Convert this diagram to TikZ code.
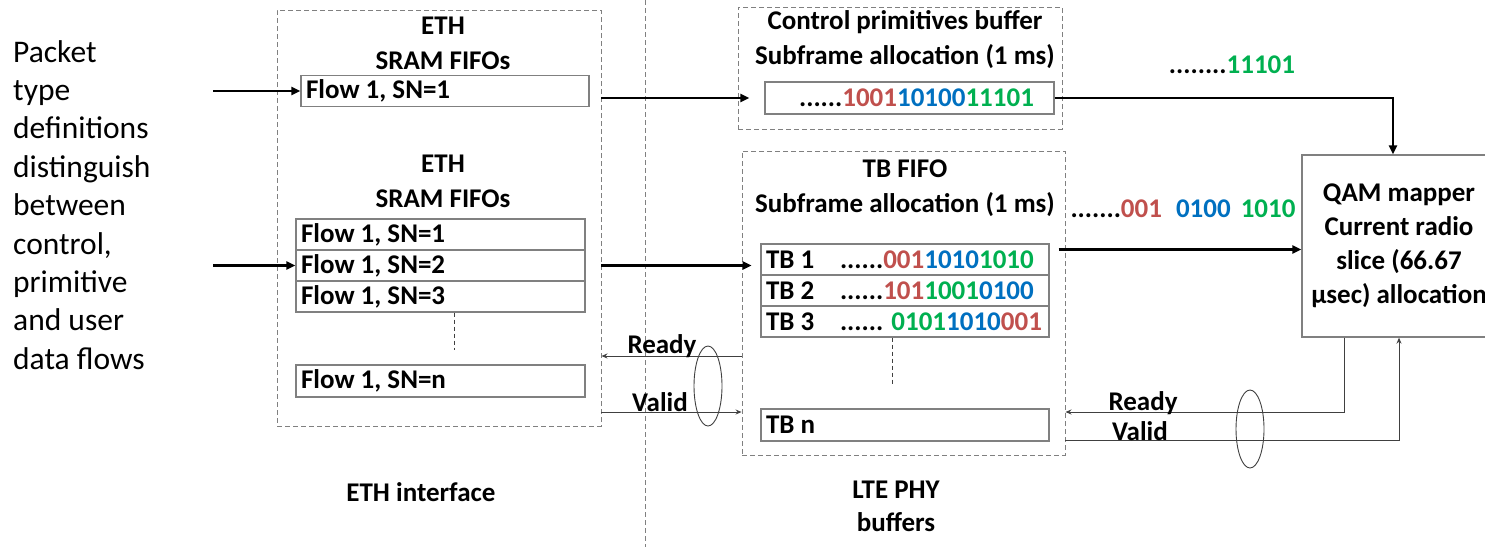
\documentclass[tikz,border=0pt]{standalone}
\usepackage{fontspec}
\setmainfont{Carlito}
\usetikzlibrary{arrows.meta,shapes.geometric,calc}

\definecolor{bitred}{HTML}{C0504D}
\definecolor{bitblue}{HTML}{0070C0}
\definecolor{bitgreen}{HTML}{00B050}
\definecolor{boxgray}{HTML}{808080}
\definecolor{sigline}{HTML}{404040}

\newcommand\bfs{\fontsize{27}{35}\selectfont\bfseries}
\newcommand\bred[1]{\textcolor{bitred}{#1}}
\newcommand\bblue[1]{\textcolor{bitblue}{#1}}
\newcommand\bgreen[1]{\textcolor{bitgreen}{#1}}

\begin{document}
\begin{tikzpicture}[x=1pt,y=-1pt,
  grp/.style={rectangle, draw=boxgray, dash pattern=on 5pt off 3pt, line width=0.9pt, inner sep=0},
  cell/.style={rectangle, draw=boxgray, line width=1.3pt, inner sep=0, inner xsep=5pt, minimum height=31pt, font=\bfs},
  ttl/.style={font=\bfs, align=center, inner sep=0},
  lbl/.style={font=\bfs, inner sep=0},
  introtext/.style={font=\fontsize{31.5}{38.4}\selectfont, align=left, inner sep=0},
  flow/.style={line width=2.2pt, -{Triangle[length=9pt,width=8pt]}},
  sig/.style={draw=sigline, line width=1pt, -{Stealth[length=6pt,width=5pt]}},
  hs/.style={ellipse, draw=sigline, line width=0.9pt, inner sep=0},
  divider/.style={draw=boxgray, dash pattern=on 5pt off 3pt, line width=0.9pt},
  tick/.style={draw=sigline, dash pattern=on 4pt off 3pt, line width=0.8pt}]
\useasboundingbox (0,0) rectangle (1485,547);
\clip (0,0) rectangle (1485,547);

% left description
\node[introtext, anchor=north west] (intro) at (13,40)
  {Packet\\type\\definitions\\distinguish\\between\\control,\\primitive\\and user\\data flows};

% ETH interface side
\node[grp, minimum width=324pt, minimum height=416pt] (ethbox) at (439,218) {};
\node[ttl] (ethtitleA) at (443,43) {ETH\\SRAM FIFOs};
\node[cell, minimum width=288pt] (c1) at (445,91) {\makebox[278pt][l]{Flow 1, SN=1}};
\node[ttl] (ethtitleB) at (443,181) {ETH\\SRAM FIFOs};
\node[cell, minimum width=289pt] (s1) at (440.5,234.5) {\makebox[279pt][l]{Flow 1, SN=1}};
\node[cell, minimum width=289pt] (s2) at (440.5,265.5) {\makebox[279pt][l]{Flow 1, SN=2}};
\node[cell, minimum width=289pt] (s3) at (440.5,296.5) {\makebox[279pt][l]{Flow 1, SN=3}};
\node[cell, minimum width=289pt, minimum height=32pt] (sn) at (440.5,381) {\makebox[279pt][l]{Flow 1, SN=n}};
\draw[tick] ($(s3.south)+(13.5,0)$) -- ++(0,37);

\coordinate (srcA) at (213,0);
\draw[flow] (srcA |- c1.west) -- (c1.west);
\draw[flow] (srcA |- s2.west) -- (s2.west);

% divider between the two domains
\coordinate (divtop) at (645,0);
\coordinate (divbot) at (645,547);
\draw[divider] (divtop) -- (divbot);

% control primitives buffer
\node[grp, minimum width=324pt, minimum height=122pt] (ctrlbox) at (900,68) {};
\node[ttl] (ctrltitle) at (905,40) {Control primitives buffer\\Subframe allocation (1 ms)};
\node[cell, minimum width=289pt, minimum height=32pt] (cbits) at (909.5,98)
  {\hspace*{14pt}......\bred{1001}\bblue{10100}\bgreen{11101}};
\draw[flow] (ethbox.east |- cbits.west) -- ($(cbits.west)+(-15,0)$);

% transport block FIFO
\node[grp, minimum width=323pt, minimum height=304pt] (tbbox) at (903.5,303) {};
\node[ttl] (tbtitle) at (905,188) {TB FIFO\\Subframe allocation (1 ms)};
\node[cell, minimum width=288pt] (tb1) at (905,259.5)
  {\makebox[278pt][l]{\makebox[74pt][l]{TB 1}......\bred{001}\bblue{1010}\bgreen{1010}}};
\node[cell, minimum width=288pt] (tb2) at (905,290.5)
  {\makebox[278pt][l]{\makebox[74pt][l]{TB 2}......\bred{101}\bgreen{1001}\bblue{0100}}};
\node[cell, minimum width=288pt] (tb3) at (905,321.5)
  {\makebox[278pt][l]{\makebox[74pt][l]{TB 3}...... \bgreen{0101}\bblue{1010}\bred{001}}};
\node[cell, minimum width=288pt, minimum height=32pt] (tbn) at (905,425)
  {\makebox[278pt][l]{TB n}};
\draw[tick] ($(tb3.south)+(-13,0)$) -- ++(0,48);
\draw[flow] (ethbox.east |- s2.east) -- ($(tbbox.west |- s2.east)+(10,0)$);

% QAM mapper
\node[cell, minimum width=194pt, minimum height=182pt, align=center,
      font=\fontsize{27}{34}\selectfont\bfseries] (qam) at (1399,246)
  {QAM mapper\\Current radio\\slice (66.67\\µsec) allocation};

\draw[flow] (cbits.east) -| ($(qam.north)+(-6,0)$);
\coordinate (tbout) at ($(tb1.east)+(9,-10)$);
\draw[flow] (tbout) -- (tbout -| qam.west);

\node[lbl] (ctrlflow) at (1232,65) {........\bgreen{11101}};
\node[lbl] (tbflow) at (1183,209)
  {.......\bred{001}\hspace{14pt}\bblue{0100}\hspace{10pt}\bgreen{1010}};

% handshake between TB FIFO and QAM mapper
\coordinate (rdyR) at ($(qam.south)+(-55,0)$);
\draw[sig] (rdyR) |- ($(tbbox.east)+(0,109)$);
\draw[sig] ($(tbbox.east)+(0,137)$) -| (qam.south);
\node[hs, minimum width=28pt, minimum height=78pt] (bundleR) at (1250,429) {};
\node[lbl] (readyR) at (1143,403) {Ready};
\node[lbl] (validR) at (1140,431) {Valid};

% handshake between ETH FIFOs and TB FIFO
\coordinate (rdyL) at ($(tbbox.west)+(0,53)$);
\draw[sig] (rdyL) -- (rdyL -| ethbox.east);
\coordinate (vldL) at ($(ethbox.east)+(0,194)$);
\draw[sig] (vldL) -- (vldL -| tbbox.west);
\node[hs, minimum width=28pt, minimum height=80pt] (bundleL) at (708,386) {};
\node[lbl] (readyL) at (662,346) {Ready};
\node[lbl] (validL) at (660,402) {Valid};

% domain captions
\node[lbl] (ethif) at (421,492) {ETH interface};
\node[ttl, font=\fontsize{27}{33}\selectfont\bfseries] (ltephy) at (896,506) {LTE PHY\\buffers};
\end{tikzpicture}
\end{document}
